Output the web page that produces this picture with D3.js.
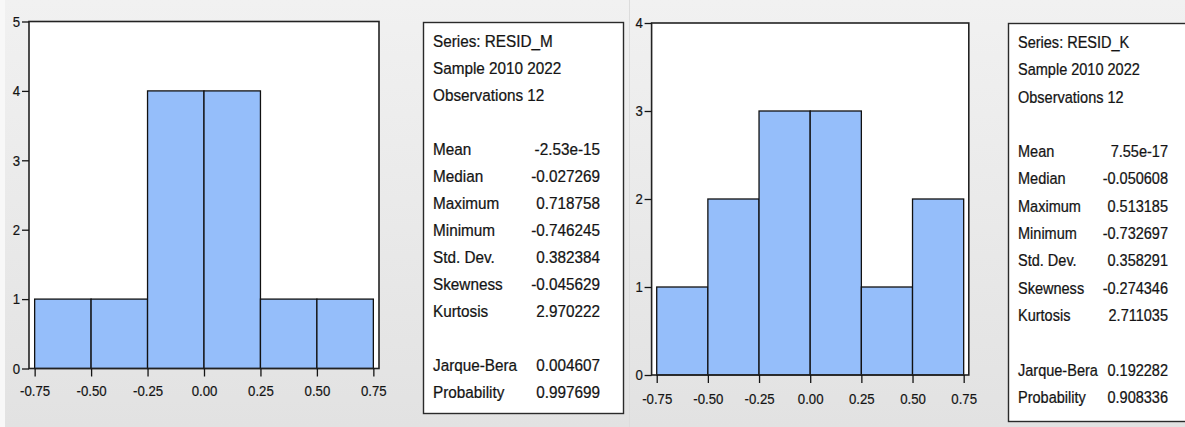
<!DOCTYPE html>
<html>
<head>
<meta charset="utf-8">
<script src="https://cdn.jsdelivr.net/npm/d3@7/dist/d3.min.js"></script>
<style>
  html, body { margin: 0; padding: 0; background: #ececec; }
  svg { display: block; }
  text { font-family: "Liberation Sans", Arial, sans-serif; }
</style>
</head>
<body>
<svg id="chart" width="1185" height="427"></svg>
<script>
// ---------- data ----------
const binEdges = [-0.75, -0.5, -0.25, 0, 0.25, 0.5, 0.75];
const xTickLabels = ["-0.75", "-0.50", "-0.25", "0.00", "0.25", "0.50", "0.75"];
const countsM = [1, 1, 4, 4, 1, 1];
const countsK = [1, 2, 3, 3, 1, 2];
const yTicksM = [0, 1, 2, 3, 4, 5];
const yTicksK = [0, 1, 2, 3, 4];

const statLabels = ["Mean", "Median", "Maximum", "Minimum", "Std. Dev.", "Skewness", "Kurtosis"];
const testLabels = ["Jarque-Bera", "Probability"];
const headerM = ["Series: RESID_M", "Sample 2010 2022", "Observations 12"];
const statValuesM = ["-2.53e-15", "-0.027269", "0.718758", "-0.746245", "0.382384", "-0.045629", "2.970222"];
const testValuesM = ["0.004607", "0.997699"];
const headerK = ["Series: RESID_K", "Sample 2010 2022", "Observations 12"];
const statValuesK = ["7.55e-17", "-0.050608", "0.513185", "-0.732697", "0.358291", "-0.274346", "2.711035"];
const testValuesK = ["0.192282", "0.908336"];

// ---------- canvas ----------
const svg = d3.select("#chart");
const defs = svg.append("defs");
const grad = defs.append("linearGradient").attr("id", "bg").attr("x1", 0).attr("y1", 0).attr("x2", 0).attr("y2", 1);
grad.append("stop").attr("offset", "0%").attr("stop-color", "#f1f1f1");
grad.append("stop").attr("offset", "100%").attr("stop-color", "#e2e2e2");
svg.append("rect").attr("width", 1185).attr("height", 427).attr("fill", "url(#bg)");
svg.append("rect").attr("x", 0).attr("y", 0).attr("width", 5).attr("height", 427).attr("fill", "#f8f8f8");
svg.append("line").attr("x1", 629.5).attr("x2", 629.5).attr("y1", 0).attr("y2", 427)
  .attr("stroke", "#dcdcdc").attr("stroke-width", 1);

const BAR_FILL = "#95befa";
const INK = "#141414";

function histogram(cfg) {
  const g = svg.append("g");
  const x = d3.scaleLinear().domain([-0.775, 0.775]).range([cfg.left, cfg.right]);
  const y = d3.scaleLinear().domain([0, cfg.yMax]).range([cfg.bottom, cfg.top]);

  g.append("rect").attr("x", cfg.left).attr("y", cfg.top)
    .attr("width", cfg.right - cfg.left).attr("height", cfg.bottom - cfg.top)
    .attr("fill", "#ffffff");

  const bins = cfg.counts.map((c, i) => ({ x0: binEdges[i], x1: binEdges[i + 1], n: c }));
  g.selectAll("rect.bar").data(bins).join("rect").attr("class", "bar")
    .attr("x", d => x(d.x0)).attr("y", d => y(d.n))
    .attr("width", d => x(d.x1) - x(d.x0)).attr("height", d => y(0) - y(d.n))
    .attr("fill", BAR_FILL).attr("stroke", "#111").attr("stroke-width", 1.3);

  g.append("rect").attr("x", cfg.left).attr("y", cfg.top)
    .attr("width", cfg.right - cfg.left).attr("height", cfg.bottom - cfg.top)
    .attr("fill", "none").attr("stroke", "#222").attr("stroke-width", 1.6);

  const xa = g.append("g").attr("transform", `translate(0,${cfg.bottom})`)
    .call(d3.axisBottom(x).tickValues(binEdges).tickSize(cfg.xTickLen).tickPadding(cfg.xPad)
      .tickFormat((d, i) => xTickLabels[i]));
  xa.select(".domain").remove();
  xa.selectAll(".tick line").attr("stroke", INK).attr("stroke-width", 1.3);
  xa.selectAll(".tick text").attr("fill", INK).attr("font-size", 15)
    .attr("font-family", '"Liberation Sans", Arial, sans-serif')
    .attr("stroke", INK).attr("stroke-width", 0.2)
    .attr("transform", "scale(0.88,1)");

  const ya = g.append("g").attr("transform", `translate(${cfg.left},0)`)
    .call(d3.axisLeft(y).tickValues(cfg.yTicks).tickSize(7).tickPadding(3).tickFormat(d3.format("d")));
  ya.select(".domain").remove();
  ya.selectAll(".tick line").attr("stroke", INK).attr("stroke-width", 1.3);
  ya.selectAll(".tick text").attr("fill", INK).attr("font-size", 15)
    .attr("font-family", '"Liberation Sans", Arial, sans-serif')
    .attr("stroke", INK).attr("stroke-width", 0.2)
    .attr("transform", "scale(0.88,1)");
}

function statsBox(cfg) {
  const g = svg.append("g");
  g.append("rect").attr("x", cfg.x0).attr("y", cfg.y0)
    .attr("width", cfg.x1 - cfg.x0).attr("height", cfg.y1 - cfg.y0)
    .attr("fill", "#ffffff").attr("stroke", "#2a2a2a").attr("stroke-width", 1.4);
  const row = d3.scaleLinear().domain([0, 13]).range(cfg.rowRange);
  const rows = [];
  cfg.header.forEach((t, i) => rows.push({ r: i, label: t, value: null }));
  statLabels.forEach((t, i) => rows.push({ r: 4 + i, label: t, value: cfg.stats[i] }));
  testLabels.forEach((t, i) => rows.push({ r: 12 + i, label: t, value: cfg.tests[i] }));
  const base = cfg.size * 0.36;
  g.selectAll("text.lab").data(rows).join("text").attr("class", "lab")
    .attr("transform", d => `translate(${cfg.labelX},${row(d.r) + base}) scale(${cfg.sx},1)`)
    .attr("font-size", cfg.size).attr("fill", INK)
    .attr("stroke", INK).attr("stroke-width", 0.25).text(d => d.label);
  g.selectAll("text.val").data(rows.filter(d => d.value !== null)).join("text").attr("class", "val")
    .attr("transform", d => `translate(${cfg.valueX},${row(d.r) + base}) scale(${cfg.sx},1)`)
    .attr("text-anchor", "end")
    .attr("font-size", cfg.size).attr("fill", INK)
    .attr("stroke", INK).attr("stroke-width", 0.25).text(d => d.value);
}

histogram({ left: 29, right: 379, top: 21.5, bottom: 368.5, yMax: 5, yTicks: yTicksM,
  counts: countsM, xTickLen: 8, xPad: 9 });
histogram({ left: 651.6, right: 968.8, top: 23, bottom: 375, yMax: 4, yTicks: yTicksK,
  counts: countsK, xTickLen: 8, xPad: 10 });

statsBox({ x0: 423.5, y0: 22.5, x1: 623.5, y1: 413.5, labelX: 433, valueX: 600,
  rowRange: [41, 392], size: 17, sx: 0.9, header: headerM, stats: statValuesM, tests: testValuesM });
statsBox({ x0: 1008.5, y0: 23.5, x1: 1195, y1: 421.5, labelX: 1018, valueX: 1168,
  rowRange: [42, 397], size: 16.5, sx: 0.88, header: headerK, stats: statValuesK, tests: testValuesK });
</script>
</body>
</html>
